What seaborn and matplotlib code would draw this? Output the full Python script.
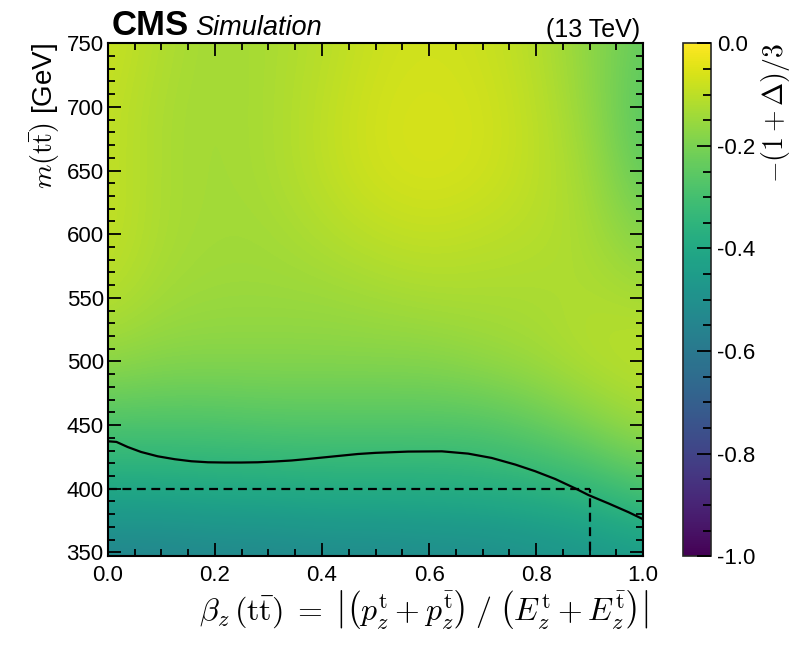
import numpy as np
import matplotlib
matplotlib.use("Agg")
import matplotlib.pyplot as plt
import seaborn as sns
from matplotlib.ticker import MultipleLocator

# grid of -(1+Delta)/3
beta_z = [0.0, 0.1, 0.2, 0.3, 0.4, 0.5, 0.6, 0.7, 0.8, 0.9, 1.0]
m_tt = [350, 400, 450, 500, 550, 600, 650, 700, 750]
val_350 = [-0.55, -0.55, -0.54, -0.54, -0.53, -0.53, -0.52, -0.52, -0.50, -0.48, -0.46]
val_400 = [-0.40, -0.40, -0.39, -0.39, -0.38, -0.38, -0.38, -0.37, -0.36, -0.34, -0.28]
val_450 = [-0.28, -0.28, -0.28, -0.27, -0.27, -0.27, -0.27, -0.27, -0.24, -0.19, -0.14]
val_500 = [-0.16, -0.18, -0.18, -0.18, -0.18, -0.18, -0.18, -0.16, -0.14, -0.11, -0.10]
val_550 = [-0.11, -0.14, -0.15, -0.15, -0.15, -0.14, -0.13, -0.13, -0.13, -0.12, -0.13]
val_600 = [-0.09, -0.13, -0.14, -0.14, -0.12, -0.10, -0.09, -0.10, -0.11, -0.13, -0.19]
val_650 = [-0.09, -0.13, -0.14, -0.13, -0.10, -0.07, -0.06, -0.07, -0.10, -0.14, -0.25]
val_700 = [-0.09, -0.13, -0.14, -0.13, -0.10, -0.07, -0.06, -0.07, -0.10, -0.16, -0.27]
val_750 = [-0.08, -0.12, -0.14, -0.13, -0.11, -0.08, -0.07, -0.08, -0.11, -0.17, -0.24]

# contour line (Delta = 0)
contour_beta = [0.0, 0.016, 0.037, 0.062, 0.093, 0.125, 0.156, 0.187, 0.218, 0.249,
                0.280, 0.311, 0.343, 0.374, 0.405, 0.436, 0.467, 0.50, 0.561,
                0.624, 0.673, 0.717, 0.761, 0.798, 0.836, 0.873, 0.898, 0.935,
                0.973, 1.0]
contour_m = [437.3, 436.8, 432.8, 428.9, 425.5, 423.2, 421.6, 420.8, 420.6, 420.6,
             420.8, 421.4, 422.2, 423.4, 424.7, 426.0, 427.3, 428.2, 429.2,
             429.4, 427.6, 424.2, 419.0, 413.8, 407.6, 400.3, 395.0, 388.5,
             381.5, 376.0]

# selection box
cut_beta = 0.9
cut_m = 400

sns.set_style("ticks")
plt.rcParams['font.family'] = ['Liberation Sans', 'DejaVu Sans']
plt.rcParams['mathtext.fontset'] = 'cm'
plt.rcParams['axes.unicode_minus'] = False
plt.rcParams['axes.axisbelow'] = False

grid = np.array([val_350, val_400, val_450, val_500, val_550,
                 val_600, val_650, val_700, val_750])

fig = plt.figure(figsize=(7.99, 6.46), dpi=100)
ax = fig.add_axes([0.135, 0.139, 0.670, 0.794])
cax = fig.add_axes([0.855, 0.139, 0.035, 0.794])

cmap = sns.color_palette("viridis", as_cmap=True)
db = beta_z[1] - beta_z[0]
dm = m_tt[1] - m_tt[0]
im = ax.imshow(grid, origin='lower', aspect='auto', cmap=cmap, vmin=-1, vmax=0,
               interpolation='bicubic', zorder=0,
               extent=[beta_z[0] - db / 2, beta_z[-1] + db / 2,
                       m_tt[0] - dm / 2, m_tt[-1] + dm / 2])

ax.plot(contour_beta, contour_m, color='black', lw=1.6)
ax.plot([0, cut_beta], [cut_m, cut_m], color='black', lw=1.6, ls=(0, (4, 2.5)))
ax.plot([cut_beta, cut_beta], [340, cut_m], color='black', lw=1.6, ls=(0, (4, 2.5)))

ax.set_xlim(0, 1)
ax.set_ylim(347, 750)
ax.set_axisbelow(False)
ax.xaxis.set_major_locator(MultipleLocator(0.2))
ax.xaxis.set_minor_locator(MultipleLocator(0.05))
ax.yaxis.set_major_locator(MultipleLocator(50))
ax.yaxis.set_minor_locator(MultipleLocator(10))
ax.xaxis.set_major_formatter(plt.FormatStrFormatter('%.1f'))
ax.tick_params(which='both', direction='in', top=True, right=True, width=1.3,
               labelsize=16, color='black', labelcolor='black')
ax.tick_params(which='major', length=9.5)
ax.tick_params(which='minor', length=5)
ax.tick_params(axis='x', pad=6)
ax.tick_params(axis='y', pad=3)
for sp in ax.spines.values():
    sp.set_linewidth(1.5)
    sp.set_color('black')
    sp.set_zorder(5)

ax.set_xlabel(r'$\beta_z\,(\mathrm{t\bar{t}})\; = \;\left|\left(p_z^{\mathrm{t}} + p_z^{\bar{\mathrm{t}}}\right)\;/\;\left(E_z^{\mathrm{t}} + E_z^{\bar{\mathrm{t}}}\right)\right|$',
              fontsize=23, x=0.59, labelpad=2, color='black')
ax.set_ylabel(r'$m(\mathrm{t\bar{t}})$ [GeV]', fontsize=20, loc='top', labelpad=3,
              color='black')

ax.text(0.007, 1.016, 'CMS', transform=ax.transAxes, fontsize=25,
        fontweight='bold', ha='left', va='baseline', color='black')
ax.text(0.163, 1.016, 'Simulation', transform=ax.transAxes, fontsize=19.5,
        style='italic', ha='left', va='baseline', color='black')
ax.text(0.994, 1.012, '(13 TeV)', transform=ax.transAxes, fontsize=18,
        ha='right', va='baseline', color='black')

cb = fig.colorbar(im, cax=cax)
cb.outline.set_linewidth(1.2)
cb.set_ticks([-1.0, -0.8, -0.6, -0.4, -0.2, 0.0])
cb.ax.yaxis.set_minor_locator(MultipleLocator(0.05))
cb.ax.yaxis.set_major_formatter(plt.FormatStrFormatter('%.1f'))
cb.ax.set_axisbelow(False)
cb.ax.tick_params(which='both', direction='in', width=1.3, labelsize=16, pad=4,
                  color='black', labelcolor='black')
cb.ax.tick_params(which='major', length=10)
cb.ax.tick_params(which='minor', length=6)
cb.set_label(r'$-(1+\Delta)/3$', fontsize=20, loc='top', labelpad=3, color='black')

fig.savefig('out.png', dpi=100)
